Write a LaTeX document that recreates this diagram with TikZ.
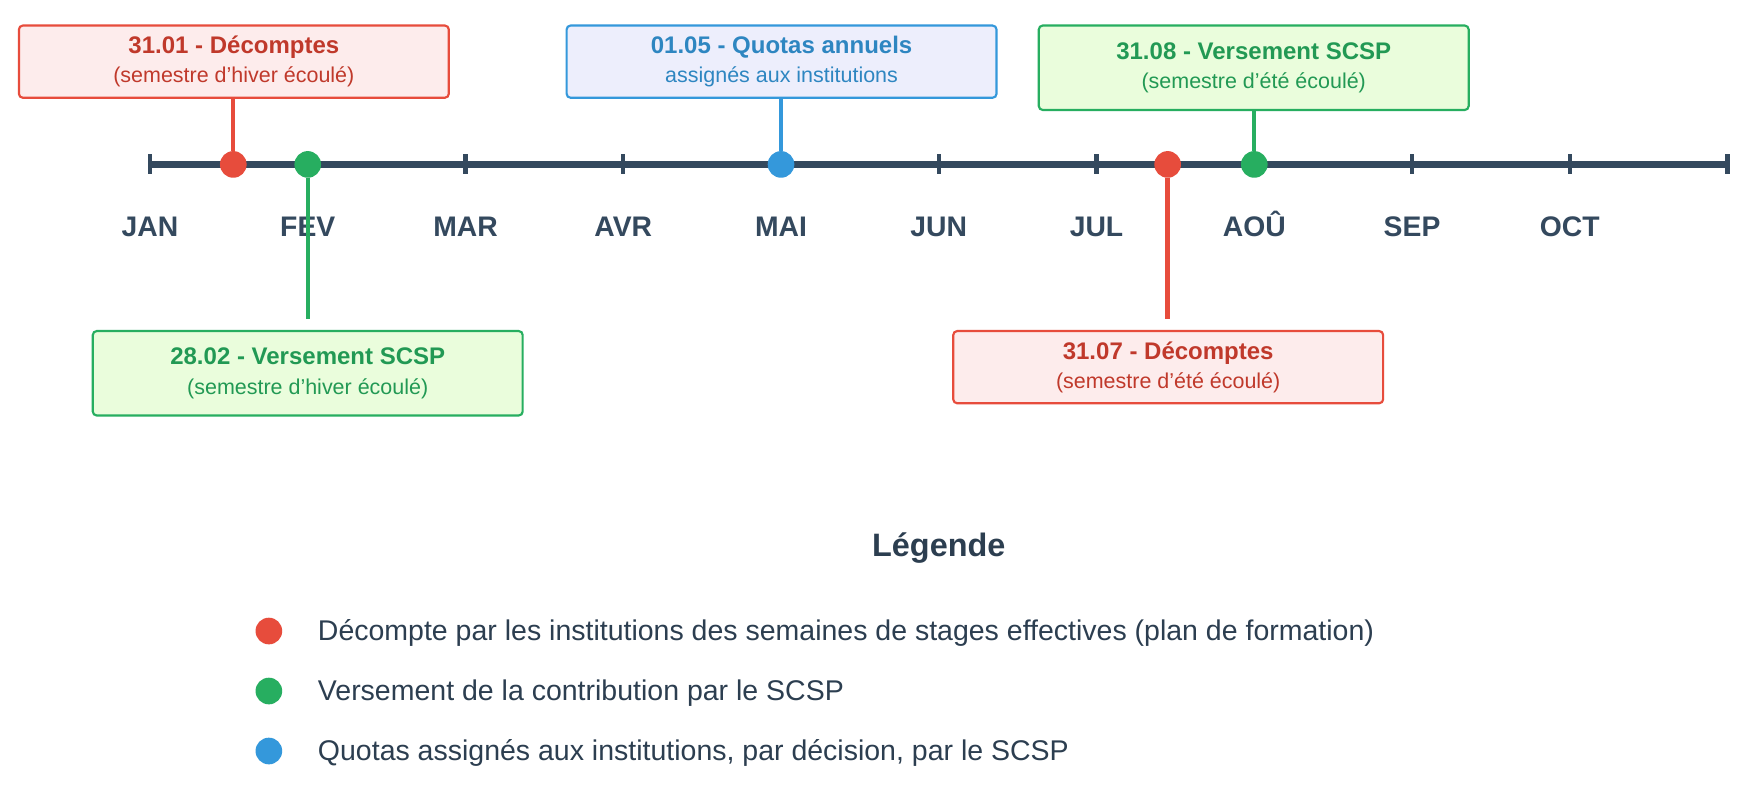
\documentclass[tikz,border=0pt]{standalone}
\usepackage{fontspec}
\setmainfont{Liberation Sans}
\definecolor{axis}{HTML}{34495E}
\definecolor{txt}{HTML}{2C3E50}
\definecolor{red1}{HTML}{E74C3C}\definecolor{red2}{HTML}{C0392B}\definecolor{redf}{HTML}{FDECEC}
\definecolor{grn1}{HTML}{27AE60}\definecolor{grn2}{HTML}{229954}\definecolor{grnf}{HTML}{EAFDDC}
\definecolor{blu1}{HTML}{3498DB}\definecolor{blu2}{HTML}{2E86C1}\definecolor{bluf}{HTML}{EDEEFC}
\tikzset{
  box/.style={draw, line width=1.1pt, rounded corners=2pt, minimum width=7.74cm, align=center, inner sep=0pt},
  dot/.style={circle, inner sep=0pt, minimum size=0.48cm},
  stem/.style={line width=2.2pt},
  month/.style={font=\fontsize{14.5}{16}\selectfont\bfseries, text=axis, anchor=base},
  legt/.style={font=\fontsize{14.6}{16}\selectfont, text=txt, anchor=west},
}
\newcommand{\ap}{\char"27\relax}
\newcommand{\bt}[2]{{\fontsize{12.3}{14}\selectfont\bfseries #1}\\[3pt]{\fontsize{11}{12}\selectfont #2}}
\begin{document}
\begin{tikzpicture}[x=0.02cm,y=-0.02cm]
\useasboundingbox[fill=white] (0,0) rectangle (1568,715);
\draw[axis, line width=3.2pt] (135,148) -- (1555,148);
\foreach \x/\m in {135/JAN,277/FEV,419/MAR,561/AVR,703/MAI,845/JUN,987/JUL,1129/AOÛ,1271/SEP,1413/OCT}{
  \draw[axis, line width=2.2pt] (\x,139) -- (\x,157);
  \node[month] at (\x,213) {\m};
}
\draw[axis, line width=2.2pt] (1555,139) -- (1555,157);
% boxes
\node[box, draw=red1, fill=redf, text=red2, minimum height=1.3cm] (b1) at (210.5,55.5) {\bt{31.01 - Décomptes}{(semestre d\ap hiver écoulé)}};
\node[box, draw=blu1, fill=bluf, text=blu2, minimum height=1.3cm] (b2) at (703.5,55.5) {\bt{01.05 - Quotas annuels}{assignés aux institutions}};
\node[box, draw=grn1, fill=grnf, text=grn2, minimum height=1.52cm] (b3) at (1128.5,61) {\bt{31.08 - Versement SCSP}{(semestre d\ap été écoulé)}};
\node[box, draw=grn1, fill=grnf, text=grn2, minimum height=1.52cm] (b4) at (277,336) {\bt{28.02 - Versement SCSP}{(semestre d\ap hiver écoulé)}};
\node[box, draw=red1, fill=redf, text=red2, minimum height=1.3cm] (b5) at (1051.5,330.5) {\bt{31.07 - Décomptes}{(semestre d\ap été écoulé)}};
% dots
\node[dot, fill=red1] (d1) at (210,148) {};
\node[dot, fill=grn1] (d2) at (277,148) {};
\node[dot, fill=blu1] (d3) at (703,148) {};
\node[dot, fill=red1] (d4) at (1051,148) {};
\node[dot, fill=grn1] (d5) at (1129,148) {};
\draw[stem, red1] (b1.south -| d1) -- (d1);
\draw[stem, blu1] (b2.south -| d3) -- (d3);
\draw[stem, grn1] (b3.south -| d5) -- (d5);
\coordinate (e2) at (277,287);
\coordinate (e4) at (1051,287);
\draw[stem, grn1] (d2) -- (e2);
\draw[stem, red1] (d4) -- (e4);
% legend
\node[font=\fontsize{16.6}{18}\selectfont\bfseries, text=txt] (lt) at (845,493) {Légende};
\node[dot, fill=red1] (l1) at (242,568) {};
\node[dot, fill=grn1] (l2) at (242,622) {};
\node[dot, fill=blu1] (l3) at (242,676) {};
\node[legt] at (280,570) {Décompte par les institutions des semaines de stages effectives (plan de formation)};
\node[legt] at (280,624) {Versement de la contribution par le SCSP};
\node[legt] at (280,678) {Quotas assignés aux institutions, par décision, par le SCSP};
\end{tikzpicture}
\end{document}
